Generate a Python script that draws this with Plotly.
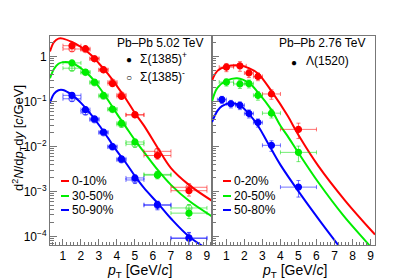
import plotly.graph_objects as go

# ---------------- data: left panel, Sigma(1385), Pb-Pb 5.02 TeV ----------------
sig_pt = [1.5, 2.25, 2.75, 3.25, 3.75, 4.25, 5.0, 6.25, 8.0]
sig_pt_lo = [0.5, 0.25, 0.25, 0.25, 0.25, 0.25, 0.5, 0.75, 1.0]
sig_pt_hi = [0.5, 0.25, 0.25, 0.25, 0.25, 0.25, 0.5, 0.75, 1.0]

sigp_0010 = [1.74, 1.49, 0.89, 0.51, 0.25, 0.13, 0.051, 0.0063, 0.00104]
sigm_0010 = [1.47, 1.42, 0.90, 0.50, 0.27, 0.14, 0.050, 0.0078, 0.00124]
sig_err_0010 = [0.17, 0.13, 0.08, 0.05, 0.025, 0.014, 0.006, 0.0011, 0.00025]

sigp_3050 = [0.72, 0.45, 0.27, 0.137, 0.068, 0.033, 0.0126, 0.0023, 0.00033]
sigm_3050 = [0.55, 0.44, 0.26, 0.130, 0.066, 0.031, 0.0112, 0.0024, 0.00043]
sig_err_3050 = [0.07, 0.04, 0.025, 0.013, 0.007, 0.004, 0.0016, 0.0004, 0.00008]

sigp_5090 = [0.137, 0.066, 0.041, 0.021, 0.0100, 0.0053, 0.0020, 0.00051, 0.000093]
sigm_5090 = [0.115, 0.058, 0.039, 0.020, 0.0097, 0.0050, 0.0018, 0.00049, 0.000090]
sig_err_5090 = [0.014, 0.007, 0.004, 0.002, 0.0011, 0.0006, 0.0003, 0.0001, 0.00003]

# fit curves (left)
fitL_pt = [0.28, 0.5, 0.75, 1.0, 1.5, 2.0, 2.5, 3.0, 3.5, 4.0, 4.5, 5.0, 5.5, 6.3, 7.0, 8.0, 9.28]
fitL_0010 = [1.3, 2.1, 2.5, 2.5, 2.1, 1.63, 1.14, 0.70, 0.41, 0.22, 0.114, 0.055, 0.029, 0.0088, 0.0033, 0.0014, 0.00062]
fitL_3050 = [0.33, 0.53, 0.69, 0.75, 0.72, 0.55, 0.37, 0.21, 0.108, 0.053, 0.027, 0.0138, 0.0075, 0.0029, 0.0014, 0.00062, 0.00028]
fitL_5090 = [0.093, 0.147, 0.178, 0.18, 0.14, 0.093, 0.055, 0.030, 0.0155, 0.0079, 0.0043, 0.0022, 0.0012, 0.00053, 0.00025, 0.0001, 0.000045]

# ---------------- data: right panel, Lambda(1520), Pb-Pb 2.76 TeV ----------------
lam_pt = [1.0, 1.75, 2.25, 2.75, 3.5, 5.0]
lam_pt_lo = [0.4, 0.35, 0.25, 0.25, 0.5, 1.0]
lam_pt_hi = [0.4, 0.35, 0.25, 0.25, 0.5, 1.0]
lam_0020 = [0.58, 0.62, 0.43, 0.36, 0.147, 0.024]
lam_err_0020 = [0.12, 0.15, 0.09, 0.07, 0.035, 0.009]
lam_2050 = [0.27, 0.245, 0.25, 0.137, 0.055, 0.0074]
lam_err_2050 = [0.05, 0.05, 0.05, 0.03, 0.012, 0.0028]

lam_pt_b = [0.75, 1.25, 1.75, 2.25, 2.75, 3.5, 5.0]
lam_pt_b_err = [0.25, 0.25, 0.25, 0.25, 0.25, 0.5, 1.0]
lam_5080 = [0.11, 0.089, 0.082, 0.054, 0.034, 0.0106, 0.00125]
lam_err_5080 = [0.02, 0.017, 0.016, 0.011, 0.007, 0.0028, 0.0005]

fitR_pt_0020 = [0.2, 0.5, 1.0, 1.75, 2.25, 2.75, 3.5, 4.4, 5.0, 6.1, 7.6, 9.25]
fitR_0020 = [0.29, 0.48, 0.60, 0.63, 0.55, 0.42, 0.17, 0.048, 0.018, 0.0037, 0.00062, 0.00011]
fitR_pt_2050 = [0.2, 0.5, 1.0, 1.6, 2.25, 2.75, 3.5, 4.0, 4.4, 5.0, 6.1, 7.5, 8.9, 9.25]
fitR_2050 = [0.1, 0.2, 0.29, 0.33, 0.26, 0.16, 0.065, 0.029, 0.017, 0.0072, 0.0016, 0.00029, 0.000066, 0.000045]
fitR_pt_5080 = [0.2, 0.5, 0.75, 1.25, 1.75, 2.25, 2.75, 3.3, 4.0, 5.15, 6.2, 7.2, 7.6]
fitR_5080 = [0.035, 0.062, 0.079, 0.093, 0.082, 0.053, 0.029, 0.012, 0.0039, 0.00083, 0.00022, 0.000065, 0.00004]

RED, GREEN, BLUE = "#ff0000", "#00ee00", "#0000ff"
RED_L, GREEN_L, BLUE_L = "rgba(255,0,0,0.55)", "rgba(0,220,0,0.55)", "rgba(0,0,255,0.55)"
FONT = "Liberation Sans, Arial, Helvetica, sans-serif"

fig = go.Figure()

def fit(x, y, color, xa, ya):
    fig.add_trace(go.Scatter(x=x, y=y, mode="lines", line=dict(color=color, width=2, shape="spline"),
                             xaxis=xa, yaxis=ya, showlegend=False, hoverinfo="skip"))

def pts(x, xlo, xhi, y, ey, color, bar_color, symbol, xa, ya):
    fig.add_trace(go.Scatter(
        x=x, y=y, mode="markers", xaxis=xa, yaxis=ya, showlegend=False,
        marker=dict(color=color, symbol=symbol, size=6, line=dict(color=color, width=1.2)),
        error_x=dict(type="data", symmetric=False, array=xhi, arrayminus=xlo, color=bar_color, thickness=1, width=2),
        error_y=dict(type="data", array=ey, color=bar_color, thickness=1, width=2)))

# left panel
fit(fitL_pt, fitL_0010, RED, "x", "y")
fit(fitL_pt, fitL_3050, GREEN, "x", "y")
fit(fitL_pt, fitL_5090, BLUE, "x", "y")
for ym, yp, e, c, cl in [(sigm_0010, sigp_0010, sig_err_0010, RED, RED_L),
                         (sigm_3050, sigp_3050, sig_err_3050, GREEN, GREEN_L),
                         (sigm_5090, sigp_5090, sig_err_5090, BLUE, BLUE_L)]:
    pts(sig_pt, sig_pt_lo, sig_pt_hi, ym, e, cl, cl, "circle-open", "x", "y")
    pts(sig_pt, sig_pt_lo, sig_pt_hi, yp, e, c, cl, "circle", "x", "y")

# right panel
fit(fitR_pt_0020, fitR_0020, RED, "x2", "y2")
fit(fitR_pt_2050, fitR_2050, GREEN, "x2", "y2")
fit(fitR_pt_5080, fitR_5080, BLUE, "x2", "y2")
pts(lam_pt, lam_pt_lo, lam_pt_hi, lam_0020, lam_err_0020, RED, RED_L, "circle", "x2", "y2")
pts(lam_pt, lam_pt_lo, lam_pt_hi, lam_2050, lam_err_2050, GREEN, GREEN_L, "circle", "x2", "y2")
pts(lam_pt_b, lam_pt_b_err, lam_pt_b_err, lam_5080, lam_err_5080, BLUE, BLUE_L, "circle", "x2", "y2")

W, H = 409, 279
L, R, T, B = 42, 42, 28, 42
pw, ph = W - L - R, H - T - B

def px(x):
    return (x - L) / pw

def py(y):
    return (H - B - y) / ph

split = px(204)
axcol = "#777777"
xcommon = dict(showline=True, linecolor=axcol, linewidth=1, mirror=True, ticks="inside", ticklen=6,
               tickcolor=axcol, tickvals=[1, 2, 3, 4, 5, 6, 7, 8, 9], showgrid=False, zeroline=False,
               tickfont=dict(size=12, family=FONT, color="black"),
               minor=dict(ticks="inside", ticklen=3, dtick=0.2, tick0=0, tickcolor=axcol, showgrid=False))
ycommon = dict(type="log", range=[-4.19, 0.456], showline=True, linecolor=axcol, linewidth=1, mirror=True,
               ticks="inside", ticklen=7, tickcolor=axcol, showgrid=False, zeroline=False,
               tickvals=[1e-4, 1e-3, 1e-2, 1e-1, 1],
               ticktext=["10<sup>\u22124</sup>", "10<sup>\u22123</sup>", "10<sup>\u22122</sup>", "10<sup>\u22121</sup>", "1"],
               tickfont=dict(size=12, family=FONT, color="black"),
               minor=dict(ticks="inside", ticklen=4, dtick="D1", tickcolor=axcol, showgrid=False))

fig.update_layout(
    width=W, height=H, margin=dict(l=L, r=R, t=T, b=B),
    paper_bgcolor="white", plot_bgcolor="white", showlegend=False,
    font=dict(family=FONT, size=12, color="black"),
    xaxis=dict(domain=[0, split], range=[0.28, 9.28], anchor="y", **xcommon),
    xaxis2=dict(domain=[split, 1], range=[0.2, 9.25], anchor="y2", **xcommon),
    yaxis=dict(domain=[0, 1], anchor="x", **ycommon),
    yaxis2=dict(domain=[0, 1], anchor="x2", matches="y", showticklabels=False, **ycommon),
)

ann = []
def text(x, y, s, size=12, xanchor="left", **kw):
    ann.append(dict(x=px(x), y=py(y), xref="paper", yref="paper", text=s, showarrow=False,
                    xanchor=xanchor, yanchor="middle", font=dict(size=size, family=FONT, color="black"), **kw))

# header texts
text(198, 35, "Pb\u2013Pb 5.02 TeV", xanchor="right")
text(121, 51, "\u25CF", size=10, xanchor="center")
text(130, 50, "\u03A3(1385)<sup>+</sup>")
text(121, 69, "\u25CB", size=10, xanchor="center")
text(130, 68, "\u03A3(1385)<sup>-</sup>")
text(360, 35, "Pb\u2013Pb 2.76 TeV", xanchor="right")
text(286, 54, "\u25CF", size=10, xanchor="center")
text(296, 53, "\u039B(1520)")

# legends
shapes = []
for yy, lab, c in [(173, "0-10%", RED), (188, "30-50%", GREEN), (202, "50-90%", BLUE)]:
    shapes.append(dict(type="line", xref="paper", yref="paper", x0=px(53), x1=px(61), y0=py(yy), y1=py(yy),
                       line=dict(color=c, width=2)))
    text(62, yy, lab)
for yy, lab, c in [(173, "0-20%", RED), (188, "20-50%", GREEN), (202, "50-80%", BLUE)]:
    shapes.append(dict(type="line", xref="paper", yref="paper", x0=px(215), x1=px(223), y0=py(yy), y1=py(yy),
                       line=dict(color=c, width=2)))
    text(224, yy, lab)

# axis titles
text(131, 263, "<i>p</i><sub>T</sub> [GeV/<i>c</i>]", size=14, xanchor="center")
text(286, 263, "<i>p</i><sub>T</sub> [GeV/<i>c</i>]", size=14, xanchor="center")
ann.append(dict(x=px(11), y=py(130), xref="paper", yref="paper",
                text="d<sup>2</sup><i>N</i>/d<i>p</i><sub>T</sub>d<i>y</i> [<i>c</i>/GeV]",
                showarrow=False, textangle=-90, xanchor="center", yanchor="middle",
                font=dict(size=13, family=FONT, color="black")))

fig.update_layout(annotations=ann, shapes=shapes)
fig.write_html("out.html")
